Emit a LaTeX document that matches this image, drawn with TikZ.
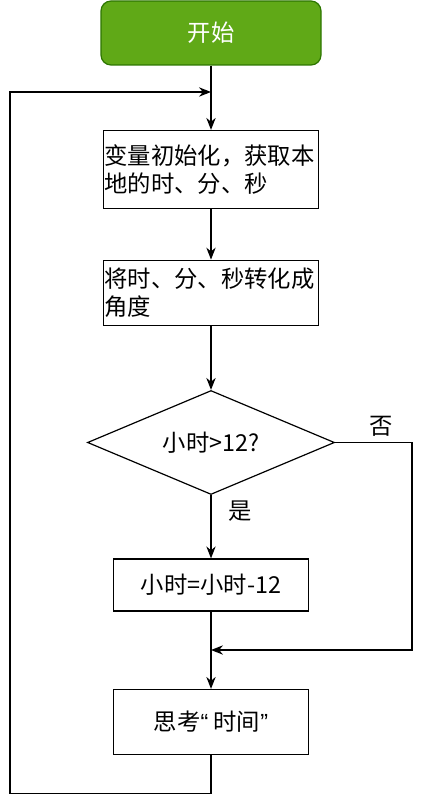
\documentclass[tikz,border=0pt]{standalone}
\usepackage{fontspec}
\setmainfont{Noto Sans CJK SC}
\newfontfamily\quotefont{Liberation Sans}
\usepackage{tikz}
\usetikzlibrary{arrows.meta}
\usetikzlibrary{shapes.geometric}

\definecolor{startfill}{HTML}{60A917}
\definecolor{startline}{HTML}{2D7600}

\tikzset{
  every node/.style={font=\fontsize{17.5}{21}\selectfont},
  flow/.style={draw, line width=0.9pt, inner sep=1pt},
  startbox/.style={flow, draw=startline, fill=startfill, text=white, rounded corners=7.5pt, minimum width=165pt, minimum height=48pt},
  procbox/.style={flow, minimum width=161.25pt, text width=160pt, inner sep=0.5pt, align=left},
  smallbox/.style={flow, minimum width=146.25pt},
  choice/.style={flow, diamond, aspect=2.375, inner sep=0pt, minimum width=185.25pt, minimum height=78pt},
  link/.style={line width=0.9pt, -{Stealth[length=9pt,width=7pt]}}
}

\begin{document}
\begin{tikzpicture}[x=0.75pt, y=-0.75pt]
\useasboundingbox (0,0) rectangle (424,805);

\node[startbox] (start) at (211, 33) {开始};
\node[procbox, minimum height=58.5pt] (init) at (211, 169.5) {变量初始化，获取本\\地的时、分、秒};
\node[procbox, minimum height=48.75pt] (angle) at (211, 292.7) {将时、分、秒转化成\\角度};
\node[choice] (test) at (211, 442.5) {小时>12?};
\node[smallbox, minimum height=39pt] (minus) at (211, 585) {小时=小时-12};
\node[smallbox, minimum height=48.75pt] (think) at (211, 722) {思考{\quotefont“} 时间{\quotefont”}};

\coordinate (back) at (211, 92);
\coordinate (merge) at (211, 650);

\draw[link] (start) -- (init);
\draw[link] (init) -- (angle);
\draw[link] (angle) -- (test);
\draw[link] (test) -- (minus) node[pos=0.26, right=9pt] {是};
\draw[link] (minus) -- (think);
\draw[link] (test.east) -- (412, 442.5) node[pos=0.6, above=1pt] {否} |- (merge);

\draw[link] (think.south) -- (211, 793.5) -| (10, 92) -- (back);

\end{tikzpicture}
\end{document}
